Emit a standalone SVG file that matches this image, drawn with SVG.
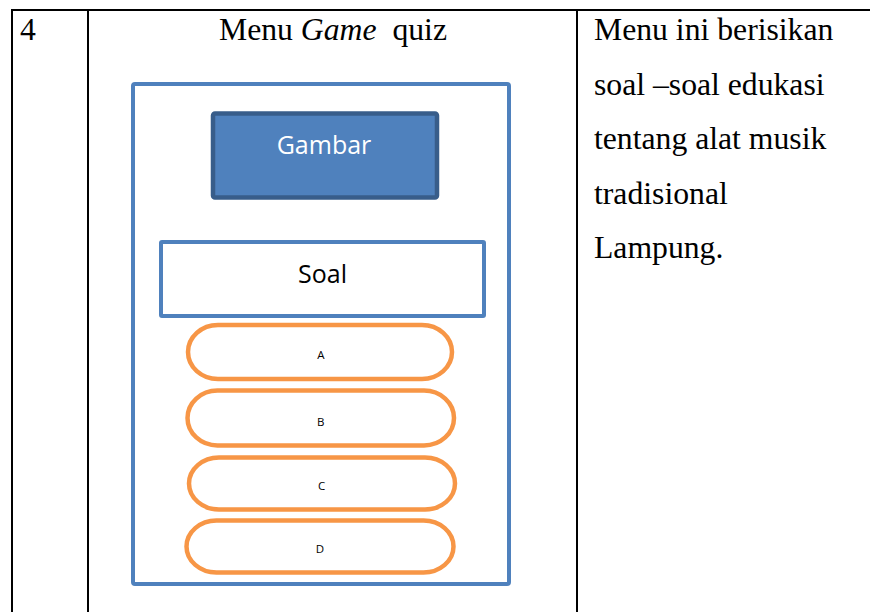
<svg xmlns="http://www.w3.org/2000/svg" width="870" height="612" viewBox="0 0 870 612">
  <style>
    .grid { stroke: #000; stroke-width: 2; fill: none; }
    .serif { font-family: "Liberation Serif", "Times New Roman", serif; font-size: 31.7px; fill: #000; }
    .sans { font-family: "Open Sans", "Liberation Sans", sans-serif; }
    .frame { fill: #fff; stroke: #4F81BD; stroke-width: 4; }
    .pic { fill: #4F81BD; stroke: #385D8A; stroke-width: 4.5; }
    .opt { fill: #fff; stroke: #F79646; stroke-width: 4.5; }
    .lbl { font-size: 11.5px; fill: #000; text-anchor: middle; }
  </style>
  <rect width="870" height="612" fill="#fff"/>

  <!-- table grid -->
  <g id="table">
    <line class="grid" x1="11" y1="10" x2="870" y2="10"/>
    <line class="grid" x1="12" y1="10" x2="12" y2="612"/>
    <line class="grid" x1="88" y1="10" x2="88" y2="612"/>
    <line class="grid" x1="577" y1="10" x2="577" y2="612"/>
  </g>

  <!-- cell texts -->
  <g id="cells">
    <text class="serif" x="20" y="40">4</text>
    <text class="serif" x="219" y="40">Menu <tspan font-style="italic">Game</tspan>&#160; quiz</text>
    <text class="serif" x="594" y="40">Menu ini berisikan</text>
    <text class="serif" x="594" y="94.5">soal –soal edukasi</text>
    <text class="serif" x="594" y="149">tentang alat musik</text>
    <text class="serif" x="594" y="203.5">tradisional</text>
    <text class="serif" x="594" y="258">Lampung.</text>
  </g>

  <!-- screen mockup -->
  <g id="screen">
    <rect class="frame" x="133" y="84" width="376" height="500" rx="2"/>
  </g>
  <g id="gambar">
    <rect class="pic" x="213" y="113.5" width="224" height="84" rx="2"/>
    <text class="sans" x="324" y="153.5" font-size="25" fill="#fff" text-anchor="middle">Gambar</text>
  </g>
  <g id="soal">
    <rect class="frame" x="161" y="242" width="323" height="74" rx="1"/>
    <text class="sans" x="322.5" y="283" font-size="25" fill="#000" text-anchor="middle">Soal</text>
  </g>
  <g id="opsi-a">
    <rect class="opt" x="188" y="325" width="264" height="54" rx="30" ry="27"/>
    <text class="sans lbl" x="321" y="359">A</text>
  </g>
  <g id="opsi-b">
    <rect class="opt" x="187.5" y="390.5" width="266.5" height="55" rx="30" ry="27.5"/>
    <text class="sans lbl" x="320.7" y="426">B</text>
  </g>
  <g id="opsi-c">
    <rect class="opt" x="189" y="457.5" width="266" height="52" rx="30" ry="26"/>
    <text class="sans lbl" x="321.7" y="490">C</text>
  </g>
  <g id="opsi-d">
    <rect class="opt" x="186.5" y="520.5" width="267" height="52" rx="30" ry="26"/>
    <text class="sans lbl" x="320" y="552.5">D</text>
  </g>

  <g id="connectors"/>
</svg>
